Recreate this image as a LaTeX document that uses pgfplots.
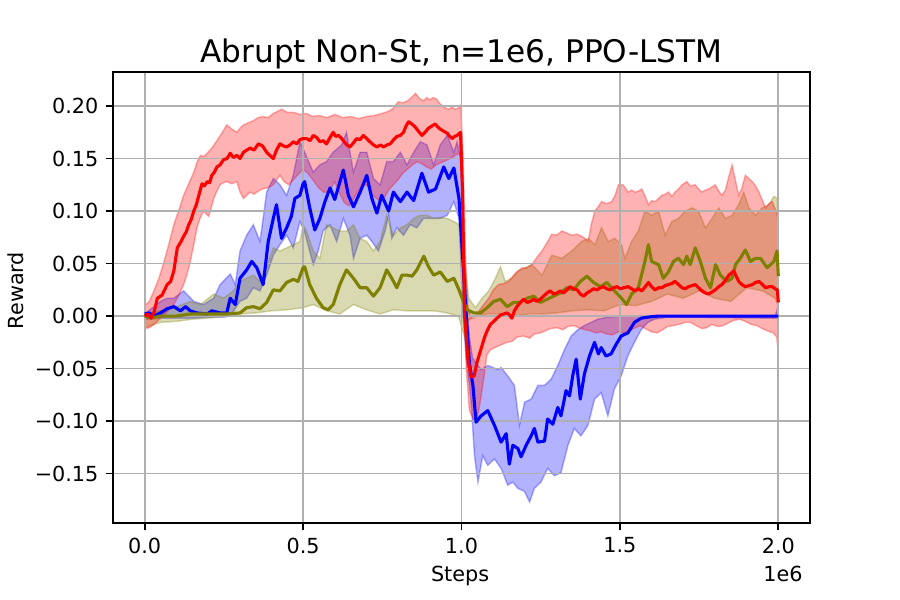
\documentclass[border=0pt]{standalone}
\usepackage{pgfplots}
\pgfplotsset{compat=1.18}
\usepackage{pgfplotstable}
\usepgfplotslibrary{fillbetween}
\usepackage{fontspec}
\setmainfont{DejaVu Sans}
\definecolor{gridgray}{HTML}{B0B0B0}
\definecolor{molive}{HTML}{808000}
\definecolor{mred}{HTML}{FF0000}
\definecolor{mblue}{HTML}{0000FF}

% ---------------- RED (mean, upper, lower) ----------------
\pgfplotstableread{
x y
0.000 0.000
0.010 0.002
0.020 -0.002
0.030 0.004
0.040 0.017
0.055 0.020
0.071 0.030
0.082 0.033
0.092 0.043
0.103 0.065
0.113 0.070
0.123 0.076
0.131 0.080
0.139 0.087
0.147 0.092
0.155 0.100
0.163 0.106
0.171 0.115
0.181 0.126
0.189 0.124
0.197 0.128
0.205 0.127
0.212 0.134
0.220 0.137
0.228 0.142
0.238 0.144
0.249 0.149
0.260 0.150
0.270 0.155
0.280 0.151
0.291 0.153
0.301 0.150
0.312 0.156
0.322 0.158
0.333 0.160
0.345 0.158
0.359 0.164
0.372 0.162
0.385 0.156
0.395 0.153
0.406 0.150
0.416 0.158
0.427 0.164
0.438 0.162
0.448 0.161
0.459 0.163
0.469 0.166
0.480 0.164
0.490 0.168
0.500 0.169
0.511 0.169
0.522 0.167
0.532 0.172
0.543 0.170
0.553 0.166
0.564 0.167
0.574 0.164
0.585 0.170
0.595 0.175
0.603 0.171
0.611 0.172
0.619 0.170
0.627 0.167
0.638 0.163
0.648 0.161
0.659 0.165
0.669 0.169
0.680 0.168
0.690 0.172
0.701 0.169
0.711 0.166
0.722 0.163
0.733 0.161
0.744 0.163
0.754 0.161
0.765 0.163
0.775 0.164
0.786 0.168
0.796 0.171
0.807 0.172
0.817 0.175
0.825 0.181
0.833 0.185
0.843 0.183
0.854 0.180
0.864 0.176
0.875 0.172
0.885 0.175
0.896 0.179
0.907 0.181
0.917 0.183
0.925 0.180
0.933 0.178
0.944 0.176
0.955 0.174
0.963 0.171
0.970 0.169
0.978 0.171
0.986 0.172
0.997 0.175
1.003 0.120
1.010 0.000
1.020 -0.040
1.030 -0.058
1.040 -0.057
1.049 -0.044
1.057 -0.036
1.065 -0.028
1.073 -0.020
1.081 -0.014
1.091 -0.008
1.102 -0.005
1.112 -0.002
1.123 0.001
1.133 0.002
1.144 0.003
1.152 0.001
1.159 -0.002
1.167 0.005
1.175 0.009
1.186 0.013
1.196 0.016
1.207 0.013
1.217 0.014
1.228 0.016
1.238 0.014
1.249 0.016
1.259 0.019
1.270 0.022
1.280 0.024
1.291 0.021
1.301 0.022
1.312 0.024
1.322 0.022
1.333 0.025
1.343 0.028
1.354 0.026
1.365 0.025
1.375 0.021
1.386 0.019
1.396 0.022
1.407 0.024
1.417 0.026
1.428 0.025
1.438 0.027
1.449 0.028
1.459 0.026
1.470 0.025
1.480 0.027
1.491 0.028
1.501 0.026
1.512 0.027
1.526 0.028
1.537 0.026
1.548 0.024
1.558 0.026
1.569 0.024
1.580 0.028
1.590 0.032
1.600 0.028
1.611 0.025
1.622 0.027
1.632 0.027
1.643 0.029
1.653 0.030
1.664 0.031
1.674 0.033
1.685 0.030
1.696 0.027
1.706 0.026
1.717 0.028
1.727 0.029
1.738 0.030
1.748 0.027
1.759 0.024
1.770 0.022
1.780 0.021
1.791 0.023
1.801 0.025
1.812 0.028
1.822 0.030
1.833 0.034
1.844 0.039
1.852 0.041
1.859 0.043
1.867 0.038
1.875 0.033
1.885 0.030
1.896 0.028
1.907 0.029
1.918 0.030
1.928 0.032
1.939 0.033
1.950 0.030
1.960 0.027
1.970 0.028
1.981 0.028
1.990 0.026
1.997 0.025
2.000 0.013
}\rmean

\pgfplotstableread{
x y
0.000 0.010
0.015 0.014
0.029 0.024
0.045 0.036
0.061 0.052
0.076 0.068
0.092 0.087
0.108 0.101
0.123 0.115
0.139 0.126
0.155 0.137
0.166 0.147
0.176 0.153
0.187 0.152
0.197 0.155
0.212 0.160
0.228 0.167
0.243 0.174
0.259 0.182
0.275 0.178
0.291 0.175
0.301 0.179
0.312 0.182
0.327 0.184
0.343 0.186
0.358 0.189
0.374 0.190
0.390 0.189
0.406 0.193
0.420 0.195
0.432 0.197
0.450 0.194
0.469 0.194
0.490 0.192
0.510 0.193
0.530 0.190
0.550 0.191
0.575 0.189
0.600 0.192
0.625 0.189
0.650 0.190
0.675 0.188
0.700 0.190
0.725 0.191
0.750 0.193
0.770 0.195
0.785 0.198
0.800 0.204
0.815 0.203
0.830 0.205
0.845 0.209
0.855 0.212
0.868 0.207
0.880 0.205
0.890 0.208
0.900 0.206
0.910 0.208
0.920 0.207
0.930 0.203
0.940 0.200
0.950 0.198
0.960 0.197
0.970 0.199
0.980 0.197
0.990 0.198
0.998 0.201
1.005 0.150
1.012 0.060
1.020 0.010
1.030 -0.002
1.040 -0.002
1.055 0.005
1.070 0.011
1.086 0.017
1.100 0.025
1.117 0.030
1.133 0.031
1.149 0.033
1.170 0.041
1.191 0.046
1.206 0.046
1.222 0.049
1.238 0.056
1.254 0.062
1.270 0.070
1.285 0.078
1.300 0.077
1.317 0.081
1.333 0.079
1.348 0.077
1.364 0.078
1.379 0.076
1.390 0.074
1.400 0.071
1.410 0.088
1.421 0.100
1.431 0.104
1.442 0.109
1.458 0.107
1.474 0.109
1.485 0.115
1.495 0.125
1.510 0.125
1.526 0.118
1.537 0.120
1.548 0.118
1.558 0.119
1.569 0.121
1.580 0.114
1.590 0.106
1.600 0.110
1.611 0.109
1.622 0.112
1.632 0.115
1.643 0.116
1.653 0.118
1.664 0.114
1.674 0.118
1.685 0.121
1.696 0.125
1.706 0.127
1.711 0.128
1.722 0.124
1.738 0.125
1.748 0.121
1.759 0.118
1.770 0.120
1.780 0.121
1.791 0.123
1.801 0.125
1.812 0.119
1.822 0.115
1.833 0.120
1.843 0.132
1.854 0.144
1.864 0.130
1.875 0.115
1.885 0.122
1.896 0.134
1.907 0.131
1.918 0.128
1.928 0.124
1.939 0.118
1.950 0.110
1.960 0.103
1.970 0.107
1.981 0.109
1.990 0.102
1.997 0.096
2.000 0.090
}\rup

\pgfplotstableread{
x y
0.000 -0.012
0.015 -0.011
0.029 -0.008
0.050 -0.002
0.070 0.004
0.092 0.011
0.108 0.020
0.123 0.030
0.134 0.040
0.144 0.052
0.155 0.068
0.165 0.084
0.176 0.094
0.186 0.100
0.195 0.097
0.202 0.095
0.210 0.103
0.218 0.112
0.228 0.119
0.238 0.125
0.249 0.127
0.259 0.128
0.275 0.126
0.291 0.128
0.301 0.118
0.312 0.112
0.322 0.115
0.333 0.118
0.345 0.116
0.354 0.118
0.370 0.121
0.385 0.122
0.395 0.123
0.406 0.125
0.417 0.130
0.427 0.134
0.440 0.128
0.455 0.125
0.470 0.130
0.485 0.135
0.500 0.140
0.515 0.136
0.530 0.130
0.550 0.122
0.565 0.118
0.580 0.118
0.600 0.128
0.615 0.117
0.630 0.108
0.645 0.105
0.660 0.112
0.680 0.122
0.700 0.125
0.720 0.115
0.740 0.110
0.755 0.112
0.770 0.120
0.785 0.125
0.800 0.130
0.815 0.136
0.830 0.140
0.845 0.144
0.860 0.147
0.875 0.145
0.890 0.142
0.905 0.140
0.920 0.144
0.935 0.146
0.950 0.148
0.965 0.150
0.980 0.153
0.993 0.155
1.000 0.150
1.005 0.050
1.015 -0.050
1.025 -0.090
1.040 -0.100
1.050 -0.097
1.060 -0.080
1.070 -0.060
1.080 -0.037
1.091 -0.032
1.105 -0.030
1.120 -0.028
1.144 -0.025
1.160 -0.024
1.175 -0.020
1.196 -0.019
1.215 -0.021
1.230 -0.017
1.249 -0.016
1.265 -0.014
1.280 -0.012
1.301 -0.011
1.320 -0.013
1.335 -0.010
1.354 -0.009
1.370 -0.011
1.390 -0.013
1.407 -0.014
1.425 -0.016
1.440 -0.015
1.459 -0.017
1.475 -0.018
1.495 -0.015
1.512 -0.016
1.530 -0.014
1.550 -0.011
1.564 -0.009
1.580 -0.012
1.600 -0.015
1.617 -0.016
1.635 -0.013
1.650 -0.010
1.669 -0.009
1.685 -0.008
1.705 -0.006
1.722 -0.006
1.740 -0.009
1.760 -0.012
1.774 -0.011
1.790 -0.008
1.810 -0.010
1.827 -0.009
1.845 -0.006
1.860 -0.004
1.879 -0.003
1.895 -0.005
1.915 -0.008
1.932 -0.009
1.950 -0.012
1.965 -0.014
1.984 -0.016
1.995 -0.020
2.000 -0.035
}\rlow

% ---------------- BLUE ----------------
\pgfplotstableread{
x y
0.000 0.002
0.014 0.003
0.029 0.000
0.050 0.003
0.071 0.007
0.092 0.009
0.113 0.005
0.129 0.009
0.144 0.005
0.165 0.003
0.197 0.002
0.212 0.005
0.238 0.003
0.259 0.003
0.270 0.017
0.286 0.011
0.301 0.036
0.322 0.044
0.338 0.052
0.354 0.046
0.374 0.030
0.390 0.071
0.406 0.093
0.416 0.106
0.432 0.074
0.448 0.084
0.463 0.095
0.474 0.112
0.490 0.115
0.500 0.126
0.505 0.128
0.521 0.103
0.537 0.082
0.553 0.093
0.569 0.109
0.585 0.122
0.600 0.111
0.627 0.139
0.643 0.115
0.659 0.104
0.680 0.118
0.701 0.134
0.717 0.112
0.733 0.098
0.748 0.115
0.770 0.100
0.785 0.118
0.807 0.109
0.828 0.118
0.849 0.110
0.875 0.136
0.896 0.118
0.918 0.121
0.944 0.142
0.960 0.131
0.976 0.141
0.992 0.112
1.005 0.050
1.015 0.000
1.025 -0.045
1.036 -0.066
1.046 -0.101
1.062 -0.095
1.083 -0.090
1.104 -0.104
1.125 -0.120
1.141 -0.112
1.151 -0.141
1.162 -0.123
1.178 -0.126
1.188 -0.134
1.204 -0.123
1.220 -0.114
1.230 -0.107
1.241 -0.120
1.262 -0.119
1.272 -0.098
1.288 -0.103
1.304 -0.087
1.314 -0.095
1.330 -0.071
1.341 -0.076
1.351 -0.057
1.362 -0.041
1.375 -0.079
1.388 -0.055
1.404 -0.038
1.420 -0.025
1.432 -0.036
1.441 -0.030
1.456 -0.038
1.472 -0.036
1.488 -0.027
1.504 -0.019
1.525 -0.016
1.546 -0.006
1.567 -0.002
1.588 -0.001
1.620 0.000
2.000 0.000
}\bmean

\pgfplotstableread{
x y
0.000 0.002
0.050 0.014
0.071 0.017
0.092 0.017
0.123 0.024
0.155 0.014
0.186 0.011
0.218 0.017
0.238 0.030
0.270 0.040
0.286 0.030
0.301 0.062
0.322 0.077
0.343 0.087
0.364 0.071
0.385 0.118
0.406 0.131
0.427 0.125
0.448 0.115
0.469 0.134
0.490 0.166
0.505 0.156
0.532 0.137
0.553 0.144
0.574 0.147
0.595 0.156
0.622 0.163
0.637 0.175
0.659 0.137
0.680 0.156
0.701 0.156
0.722 0.131
0.743 0.125
0.764 0.147
0.785 0.147
0.807 0.156
0.828 0.144
0.849 0.156
0.870 0.166
0.891 0.163
0.912 0.144
0.933 0.163
0.955 0.172
0.976 0.156
0.986 0.166
0.997 0.150
1.005 0.090
1.015 0.020
1.025 -0.020
1.035 -0.040
1.062 -0.051
1.083 -0.047
1.115 -0.051
1.125 -0.049
1.146 -0.057
1.167 -0.066
1.183 -0.104
1.199 -0.082
1.220 -0.079
1.241 -0.066
1.262 -0.066
1.283 -0.060
1.304 -0.047
1.325 -0.032
1.346 -0.019
1.367 -0.013
1.388 -0.009
1.409 -0.006
1.430 -0.003
1.462 -0.001
1.504 0.000
1.990 0.000
2.000 0.010
}\bup

\pgfplotstableread{
x y
0.000 -0.003
0.050 -0.002
0.100 -0.002
0.150 -0.002
0.200 -0.001
0.250 -0.001
0.270 0.000
0.301 0.014
0.322 0.017
0.343 0.027
0.364 0.024
0.385 0.039
0.406 0.058
0.427 0.068
0.448 0.077
0.469 0.065
0.490 0.090
0.505 0.080
0.532 0.049
0.548 0.062
0.563 0.081
0.585 0.087
0.606 0.071
0.627 0.093
0.648 0.077
0.659 0.055
0.680 0.074
0.701 0.077
0.717 0.071
0.738 0.062
0.759 0.081
0.770 0.096
0.780 0.074
0.796 0.084
0.817 0.077
0.838 0.087
0.859 0.084
0.880 0.093
0.902 0.093
0.933 0.093
0.955 0.096
0.976 0.109
0.992 0.093
1.005 0.000
1.015 -0.040
1.030 -0.080
1.041 -0.133
1.052 -0.158
1.067 -0.133
1.083 -0.142
1.104 -0.136
1.125 -0.145
1.146 -0.161
1.162 -0.158
1.178 -0.164
1.199 -0.167
1.215 -0.177
1.230 -0.164
1.251 -0.158
1.272 -0.145
1.293 -0.152
1.314 -0.149
1.336 -0.123
1.356 -0.107
1.377 -0.114
1.399 -0.104
1.420 -0.079
1.441 -0.073
1.462 -0.095
1.483 -0.069
1.504 -0.057
1.525 -0.038
1.546 -0.025
1.567 -0.013
1.588 -0.006
1.609 -0.003
1.650 -0.001
2.000 -0.002
}\blow

% ---------------- OLIVE ----------------
\pgfplotstableread{
x y
0.000 0.000
0.020 -0.002
0.050 0.000
0.100 0.000
0.144 0.002
0.200 0.002
0.260 0.002
0.301 0.003
0.322 0.008
0.343 0.009
0.364 0.007
0.385 0.013
0.406 0.025
0.427 0.024
0.448 0.032
0.469 0.035
0.484 0.033
0.500 0.046
0.505 0.047
0.521 0.030
0.542 0.017
0.563 0.008
0.579 0.006
0.595 0.011
0.616 0.030
0.637 0.044
0.659 0.036
0.680 0.027
0.701 0.027
0.722 0.019
0.743 0.027
0.764 0.044
0.780 0.036
0.796 0.027
0.812 0.039
0.828 0.039
0.844 0.038
0.859 0.044
0.881 0.057
0.896 0.047
0.912 0.039
0.933 0.042
0.955 0.033
0.976 0.036
0.992 0.025
1.007 0.013
1.018 0.006
1.039 0.003
1.060 0.003
1.081 0.008
1.102 0.014
1.123 0.016
1.144 0.009
1.165 0.013
1.186 0.013
1.207 0.017
1.228 0.019
1.249 0.013
1.270 0.016
1.291 0.019
1.312 0.022
1.333 0.027
1.354 0.025
1.375 0.033
1.396 0.038
1.417 0.032
1.438 0.028
1.459 0.032
1.480 0.025
1.505 0.017
1.521 0.011
1.537 0.021
1.558 0.027
1.579 0.052
1.590 0.068
1.600 0.052
1.622 0.049
1.637 0.036
1.653 0.042
1.669 0.052
1.685 0.055
1.701 0.049
1.711 0.057
1.722 0.049
1.738 0.065
1.754 0.052
1.770 0.036
1.786 0.027
1.802 0.049
1.817 0.039
1.838 0.033
1.854 0.036
1.865 0.049
1.880 0.055
1.896 0.063
1.912 0.052
1.928 0.055
1.944 0.055
1.965 0.046
1.986 0.052
1.996 0.062
2.000 0.038
}\omean

\pgfplotstableread{
x y
0.000 0.002
0.050 0.005
0.092 0.008
0.144 0.014
0.176 0.011
0.218 0.021
0.249 0.017
0.280 0.024
0.301 0.033
0.322 0.036
0.343 0.039
0.364 0.033
0.385 0.047
0.406 0.065
0.427 0.062
0.448 0.065
0.469 0.068
0.490 0.071
0.500 0.087
0.511 0.081
0.532 0.062
0.553 0.055
0.574 0.087
0.595 0.084
0.616 0.081
0.637 0.081
0.659 0.087
0.680 0.074
0.701 0.071
0.722 0.062
0.743 0.071
0.764 0.096
0.785 0.077
0.807 0.084
0.828 0.087
0.849 0.093
0.870 0.096
0.891 0.096
0.912 0.093
0.933 0.094
0.955 0.093
0.976 0.090
0.992 0.087
1.000 0.080
1.010 0.050
1.023 0.017
1.044 0.008
1.065 0.017
1.086 0.024
1.107 0.036
1.123 0.047
1.138 0.033
1.159 0.036
1.180 0.043
1.201 0.046
1.222 0.049
1.254 0.039
1.285 0.058
1.317 0.055
1.348 0.062
1.379 0.071
1.400 0.074
1.421 0.068
1.442 0.084
1.463 0.071
1.484 0.074
1.505 0.068
1.516 0.055
1.537 0.071
1.558 0.081
1.579 0.100
1.600 0.096
1.622 0.100
1.643 0.077
1.664 0.090
1.685 0.093
1.706 0.100
1.727 0.103
1.748 0.100
1.770 0.084
1.791 0.093
1.812 0.103
1.833 0.093
1.854 0.096
1.875 0.106
1.891 0.118
1.907 0.103
1.928 0.096
1.949 0.103
1.970 0.106
1.986 0.114
1.997 0.112
2.000 0.060
}\oup

\pgfplotstableread{
x y
0.000 -0.011
0.050 -0.006
0.100 -0.005
0.150 -0.003
0.200 -0.002
0.260 0.000
0.300 0.002
0.350 0.003
0.400 0.005
0.450 0.006
0.500 0.008
0.532 0.011
0.575 0.005
0.616 0.002
0.659 0.011
0.700 0.006
0.743 0.002
0.785 0.006
0.828 0.005
0.870 0.005
0.912 0.005
0.955 0.003
0.990 0.000
1.000 -0.010
1.010 -0.020
1.020 -0.005
1.040 0.000
1.080 0.002
1.120 0.002
1.170 0.000
1.210 0.002
1.250 0.002
1.300 0.003
1.350 0.005
1.400 0.006
1.450 0.005
1.500 0.011
1.550 0.010
1.600 0.014
1.650 0.021
1.700 0.017
1.750 0.024
1.800 0.017
1.850 0.014
1.900 0.027
1.950 0.024
1.990 0.017
2.000 0.010
}\olow

\begin{document}
\begin{tikzpicture}
\path (-0.7533in,-0.5133in) rectangle (5.2467in,3.4867in);
\begin{axis}[
  at={(0,0)}, anchor=south west,
  scale only axis,
  width=4.6467in, height=3.0067in,
  xmin=-0.1, xmax=2.1, ymin=-0.197, ymax=0.2324,
  xtick={0,0.5,1,1.5,2},
  xticklabels={0.0,0.5,1.0,1.5,2.0},
  ytick={-0.15,-0.1,-0.05,0,0.05,0.1,0.15,0.2},
  yticklabels={−0.15,−0.10,−0.05,0.00,0.05,0.10,0.15,0.20},
  tick pos=left,
  tick align=outside,
  major tick length=3.5pt,
  tick style={black, line width=0.8pt},
  axis line style={line width=0.8pt},
  grid=major,
  major grid style={gridgray, line width=0.8pt},
  ticklabel style={font=\fontsize{10}{12}\selectfont},
  clip=false,
  set layers,
  fill between/on layer=axis background,
]
% bands
\addplot[name path=bu, draw=mblue, draw opacity=0.3, line width=0.7pt, on layer=axis background] table {\bup};
\addplot[name path=bl, draw=mblue, draw opacity=0.3, line width=0.7pt, on layer=axis background] table {\blow};
\addplot[fill=mblue, fill opacity=0.3, draw=none] fill between[of=bu and bl];

\addplot[name path=ou, draw=molive, draw opacity=0.3, line width=0.7pt, on layer=axis background] table {\oup};
\addplot[name path=ol, draw=molive, draw opacity=0.3, line width=0.7pt, on layer=axis background] table {\olow};
\addplot[fill=molive, fill opacity=0.3, draw=none] fill between[of=ou and ol];

\addplot[name path=ru, draw=mred, draw opacity=0.3, line width=0.7pt, on layer=axis background] table {\rup};
\addplot[name path=rl, draw=mred, draw opacity=0.3, line width=0.7pt, on layer=axis background] table {\rlow};
\addplot[fill=mred, fill opacity=0.3, draw=none] fill between[of=ru and rl];

% means
\addplot[mblue, line width=1.5pt, line join=round] table {\bmean};
\addplot[molive, line width=1.5pt, line join=round] table {\omean};
\addplot[mred, line width=1.5pt, line join=round] table {\rmean};

\node[anchor=base, font=\fontsize{15}{18}\selectfont] at (axis description cs:0.5,1.0217) {Abrupt Non-St, n=1e6, PPO-LSTM};
\node[anchor=base, font=\fontsize{10}{12}\selectfont] at (axis description cs:0.498,-0.1308) {Steps};
\node[anchor=base east, font=\fontsize{10}{12}\selectfont] at (axis description cs:1.0,-0.1308) {1e6};
\node[rotate=90, anchor=center, font=\fontsize{10}{12}\selectfont] at (axis description cs:-0.1399,0.5155) {Reward};
\end{axis}
\end{tikzpicture}
\end{document}
